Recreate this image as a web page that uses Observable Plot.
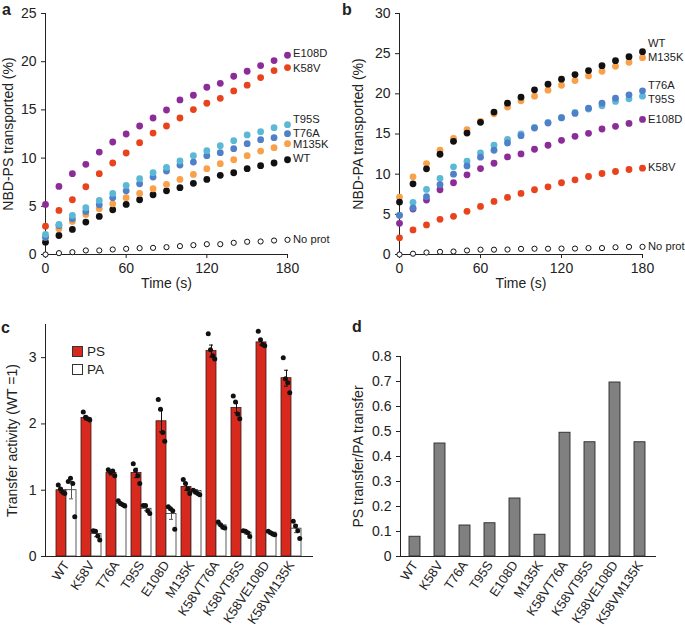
<!DOCTYPE html>
<html>
<head>
<meta charset="utf-8">
<script src="https://cdn.jsdelivr.net/npm/d3@7"></script>
<script src="https://cdn.jsdelivr.net/npm/@observablehq/plot@0.6"></script>
<style>
  html, body { margin: 0; padding: 0; background: #fff; }
  #wrap { position: relative; width: 685px; height: 630px; font-family: "Liberation Sans", Arial, sans-serif; color: #222; overflow: hidden; }
  .panel { position: absolute; }
  .letter { position: absolute; font-weight: bold; font-size: 16px; line-height: 1; }
  .leg { position: absolute; font-size: 13.5px; display: flex; align-items: center; }
  .leg span.sw { display: inline-block; width: 9px; height: 9px; border: 1px solid #333; margin-right: 4px; }
  .bars [aria-label="x-axis tick label"] { font-size: 13px; }
</style>
</head>
<body>
<div id="wrap"></div>
<script>
// ---------- Data ----------
const times = [0,10,20,30,40,50,60,70,80,90,100,110,120,130,140,150,160,170,180];

// Panel a: NBD-PS transported (%)
const aWT     = [1.28,1.97,2.60,3.36,3.95,4.64,5.19,5.68,6.20,6.61,6.93,7.38,7.79,8.21,8.48,8.90,9.21,9.49,9.83];
const aK58V   = [2.94,4.57,5.68,7.03,8.38,9.49,10.53,11.60,12.60,13.33,14.16,15.03,15.69,16.20,16.97,17.56,18.35,19.08,19.39];
const aT76A   = [1.80,3.01,3.70,4.47,5.16,5.89,6.61,7.34,8.03,8.66,9.28,9.59,10.25,10.56,10.98,11.50,11.91,12.12,12.53];
const aT95S   = [2.08,3.12,4.05,4.85,5.61,6.34,7.17,7.86,8.48,9.04,9.70,10.25,10.77,11.29,11.81,12.40,12.74,13.16,13.47];
const aE108D  = [5.19,7.06,8.38,9.35,10.63,11.67,12.50,13.33,14.16,14.99,16.03,16.52,17.35,17.76,18.49,19.01,19.60,20.12,20.67];
const aM135K  = [1.80,2.67,3.43,4.16,4.74,5.26,5.89,6.34,6.82,7.27,7.79,8.31,8.90,9.42,9.83,10.25,10.73,11.08,11.50];
const aNoProt = [0,0.14,0.24,0.42,0.42,0.52,0.59,0.66,0.69,0.76,0.87,0.97,1.07,1.07,1.21,1.32,1.35,1.45,1.52];

// Panel b: NBD-PA transported (%)
const bWT     = [6.53,8.80,10.66,12.48,14.09,15.12,16.45,17.73,18.84,19.59,20.50,21.20,21.82,22.40,22.89,23.51,24.13,24.63,25.25];
const bM135K  = [7.15,9.67,11.32,12.98,14.46,15.54,16.57,17.52,18.35,19.13,19.71,20.45,21.07,21.65,22.23,22.81,23.43,23.93,24.50];
const bT76A   = [4.88,5.79,7.19,8.68,10.00,11.03,12.11,12.98,13.88,14.79,15.74,16.36,17.02,17.56,18.22,18.84,19.46,19.88,20.37];
const bT95S   = [4.88,6.49,8.10,9.46,10.91,11.61,12.64,13.60,14.34,15.00,15.83,16.45,17.02,17.69,18.10,18.51,19.05,19.38,19.71];
const bE108D  = [3.88,5.66,6.78,8.06,8.93,9.92,10.70,11.36,12.15,12.52,13.10,13.60,14.21,14.71,15.08,15.62,15.95,16.32,16.82];
const bK58V   = [2.07,3.06,3.68,4.38,4.75,5.37,5.99,6.61,7.11,7.60,8.06,8.43,8.93,9.30,9.71,10.08,10.33,10.58,10.74];
const bNoProt = [0,0.10,0.25,0.33,0.37,0.50,0.60,0.60,0.62,0.70,0.72,0.72,0.74,0.74,0.80,0.80,0.90,0.95,0.95];

// Panels c, d
const categories = ["WT","K58V","T76A","T95S","E108D","M135K","K58VT76A","K58VT95S","K58VE108D","K58VM135K"];
const psMean = [1.00,2.09,1.26,1.26,2.04,1.05,3.10,2.24,3.23,2.69];
const psErr  = [0.03,0.03,0.03,0.07,0.16,0.05,0.09,0.07,0.04,0.12];
const paMean = [1.00,0.34,0.79,0.72,0.64,0.99,0.47,0.36,0.36,0.42];
const paErr  = [0.13,0.04,0.02,0.03,0.08,0.02,0.02,0.02,0.01,0.06];
const psReps = [[1.08,1.02,0.97,0.95],[2.18,2.10,2.08,2.06],[1.31,1.27,1.29,1.22],[1.40,1.30,1.22,1.10],[2.37,2.22,1.87,1.74],[1.16,1.10,1.02,0.95],[3.36,3.12,3.03,2.98],[2.42,2.33,2.15,2.08],[3.40,3.27,3.20,3.18],[3.00,2.68,2.62,2.47]];
const paReps = [[1.13,1.18,1.10,0.60],[0.39,0.38,0.31,0.25],[0.84,0.80,0.78,0.76],[0.77,0.77,0.69,0.65],[0.75,0.72,0.69,0.41],[1.00,0.97,0.95,0.93],[0.52,0.48,0.44,0.43],[0.39,0.38,0.36,0.30],[0.38,0.36,0.34,0.33],[0.53,0.46,0.39,0.27]];
const ratio  = [0.079,0.452,0.124,0.133,0.232,0.087,0.495,0.457,0.696,0.457];

// ---------- Styles ----------
const colors = {WT:"#111111", K58V:"#E8431C", T76A:"#4F80C8", T95S:"#5CB9D6", E108D:"#8C2C98", M135K:"#F8A04A"};
const font = {fontFamily: "'Liberation Sans', Arial, sans-serif", fontSize: "14px", color: "#222", background: "transparent", overflow: "visible"};
const titleSize = 14;

const wrap = document.getElementById("wrap");
function place(node, left, top, cls) {
  const d = document.createElement("div");
  d.className = "panel" + (cls ? " " + cls : ""); d.style.left = left + "px"; d.style.top = top + "px";
  d.appendChild(node); wrap.appendChild(d);
}
function letter(t, left, top) {
  const d = document.createElement("div");
  d.className = "letter"; d.textContent = t; d.style.left = left + "px"; d.style.top = top + "px";
  wrap.appendChild(d);
}
function xTitle(text, dy) {
  return Plot.text([text], {text: d => d, frameAnchor: "bottom", dy: dy, fontSize: titleSize, fill: "#222"});
}

function timePanel(seriesList, ymax, yticks, ylabel, opts) {
  const marks = [];
  for (const s of seriesList) {
    const rows = times.map((t, i) => ({t, v: s.vals[i]}));
    if (s.open) {
      marks.push(Plot.dot(rows, {x: "t", y: "v", r: 2.6, stroke: "#111", strokeWidth: 1, fill: "white"}));
    } else {
      marks.push(Plot.dot(rows, {x: "t", y: "v", r: 3.4, fill: colors[s.name]}));
    }
    const last = rows[rows.length - 1];
    marks.push(Plot.text([last], {x: "t", y: "v", text: () => s.name, dx: 5.5, dy: s.dy, textAnchor: "start", fontSize: 11.2, fill: "#222"}));
  }
  marks.push(xTitle("Time (s)", 33));
  return Plot.plot({
    width: opts.width, height: 300,
    marginLeft: opts.ml, marginRight: opts.mr, marginTop: 13, marginBottom: 46,
    style: font,
    x: {domain: [0, 180], ticks: [0, 60, 120, 180], label: null, line: true, tickSize: 4},
    y: {domain: [0, ymax], ticks: yticks, label: ylabel, labelAnchor: "center", labelOffset: opts.lo, labelArrow: "none", line: true, tickSize: 4},
    marks
  });
}

// Panel a
const panelA = timePanel([
  {name: "No prot", vals: aNoProt, open: true, dy: 0},
  {name: "WT", vals: aWT, dy: -1},
  {name: "M135K", vals: aM135K, dy: 1},
  {name: "T76A", vals: aT76A, dy: 0},
  {name: "T95S", vals: aT95S, dy: -5},
  {name: "K58V", vals: aK58V, dy: 1},
  {name: "E108D", vals: aE108D, dy: -2}
], 25, [0,5,10,15,20,25], "NBD-PS transported (%)", {width: 340, ml: 45, mr: 53, lo: 42});
place(panelA, 0, 0);

// Panel b
const panelB = timePanel([
  {name: "No prot", vals: bNoProt, open: true, dy: 0},
  {name: "K58V", vals: bK58V, dy: -1},
  {name: "E108D", vals: bE108D, dy: 0},
  {name: "T95S", vals: bT95S, dy: 3},
  {name: "T76A", vals: bT76A, dy: -5},
  {name: "M135K", vals: bM135K, dy: 0},
  {name: "WT", vals: bWT, dy: -8}
], 30, [0,5,10,15,20,25,30], "NBD-PA transported (%)", {width: 345, ml: 59, mr: 43, lo: 46});
place(panelB, 340, 0);

// Panel c
const groups = categories.map((c, i) => ({i, c, ps: psMean[i], pse: psErr[i], pa: paMean[i], pae: paErr[i]}));
const jitter = [-0.13, -0.04, 0.05, 0.13];
const psDots = [], paDots = [];
categories.forEach((c, i) => {
  psReps[i].forEach((v, k) => psDots.push({x: i - 0.2 + jitter[k], v}));
  paReps[i].forEach((v, k) => paDots.push({x: i + 0.2 + jitter[k], v}));
});
const panelC = Plot.plot({
  width: 340, height: 330,
  marginLeft: 45, marginRight: 28, marginTop: 24, marginBottom: 74,
  style: font,
  x: {domain: [-0.84, 9.84], ticks: d3.range(categories.length), tickFormat: i => categories[i], tickRotate: -56, tickSize: 0, tickPadding: 6, line: true, label: null},
  y: {domain: [0, 3.5], ticks: [0,1,2,3], tickFormat: d => String(d), label: "Transfer activity (WT =1)", labelAnchor: "center", labelOffset: 38, labelArrow: "none", line: true, tickSize: 4},
  marks: [
    Plot.rectY(groups, {x1: d => d.i - 0.4, x2: d => d.i, y1: 0, y2: "ps", fill: "#D8291F", stroke: "#3a1a16", strokeWidth: 0.8}),
    Plot.rectY(groups, {x1: d => d.i, x2: d => d.i + 0.4, y1: 0, y2: "pa", fill: "white", stroke: "#333", strokeWidth: 0.8}),
    Plot.ruleX(groups, {x: d => d.i - 0.2, y1: d => d.ps - d.pse, y2: d => d.ps + d.pse, stroke: "#111", strokeWidth: 1}),
    Plot.ruleY(groups, {x1: d => d.i - 0.28, x2: d => d.i - 0.12, y: d => d.ps + d.pse, stroke: "#111", strokeWidth: 1}),
    Plot.ruleY(groups, {x1: d => d.i - 0.28, x2: d => d.i - 0.12, y: d => d.ps - d.pse, stroke: "#111", strokeWidth: 1}),
    Plot.ruleX(groups, {x: d => d.i + 0.2, y1: d => d.pa - d.pae, y2: d => d.pa + d.pae, stroke: "#555", strokeWidth: 1}),
    Plot.ruleY(groups, {x1: d => d.i + 0.12, x2: d => d.i + 0.28, y: d => d.pa + d.pae, stroke: "#555", strokeWidth: 1}),
    Plot.ruleY(groups, {x1: d => d.i + 0.12, x2: d => d.i + 0.28, y: d => d.pa - d.pae, stroke: "#555", strokeWidth: 1}),
    Plot.dot(psDots, {x: "x", y: "v", r: 2.5, fill: "#111"}),
    Plot.dot(paDots, {x: "x", y: "v", r: 2.5, fill: "#111"})
  ]
});
place(panelC, 0, 300, "bars");

// Panel d
const ratioRows = categories.map((c, i) => ({c, v: ratio[i]}));
const panelD = Plot.plot({
  width: 345, height: 330,
  marginLeft: 60, marginRight: 30, marginTop: 56, marginBottom: 74,
  style: font,
  x: {domain: categories, padding: 0.55, paddingOuter: 0.25, tickRotate: -56, tickSize: 0, tickPadding: 6, line: true, label: null},
  y: {domain: [0, 0.8], ticks: d3.range(0, 0.81, 0.1).map(v => +v.toFixed(1)), tickFormat: v => v === 0 ? "0" : v.toFixed(1), label: "PS transfer/PA transfer", labelAnchor: "center", labelOffset: 47, labelArrow: "none", line: true, tickSize: 4},
  marks: [
    Plot.barY(ratioRows, {x: "c", y: "v", fill: "#808080", stroke: "#2a2a2a", strokeWidth: 0.9})
  ]
});
place(panelD, 340, 300, "bars");

// Legend for c
const legData = [{t: "PS", fill: "#D8291F", top: 344}, {t: "PA", fill: "#ffffff", top: 362}];
for (const l of legData) {
  const d = document.createElement("div");
  d.className = "leg"; d.style.left = "72px"; d.style.top = l.top + "px";
  d.innerHTML = `<span class="sw" style="background:${l.fill}"></span>${l.t}`;
  wrap.appendChild(d);
}

letter("a", 2, 2);
letter("b", 342, 2);
letter("c", 1, 320);
letter("d", 352, 319);
</script>
</body>
</html>
